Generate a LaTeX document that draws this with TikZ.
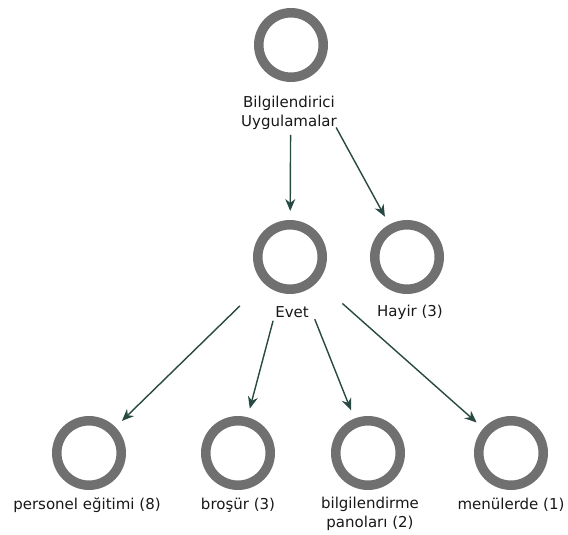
\documentclass[tikz,border=0pt]{standalone}
\usepackage{fontspec}
\setmainfont{DejaVu Sans}
\usetikzlibrary{arrows.meta}
\definecolor{ringgray}{RGB}{112,112,112}
\definecolor{linkteal}{RGB}{40,72,66}
\definecolor{labelink}{RGB}{24,24,24}

\begin{document}
\begin{tikzpicture}[
  x=1pt,y=-1pt,
  font=\fontsize{15}{19}\selectfont,
  ring/.style={circle,draw=ringgray,line width=9.5pt,minimum size=64.5pt,inner sep=0pt},
  lbl/.style={text=labelink,align=center,inner sep=1pt},
  link/.style={draw=linkteal,line width=1.4pt,shorten >=46pt,
               -{Stealth[length=12pt,width=10pt]}},
]
\useasboundingbox (0,0) rectangle (568,535);

% root
\node[ring] (root) at (291,45) {};
\node[lbl] (rootlbl) at (289,112.5) {Bilgilendirici\\Uygulamalar};

% first split
\node[ring] (evet) at (290,257) {};
\node[lbl] (evetlbl) at (292,312) {Evet};
\node[ring] (hayir) at (407,257) {};
\node[lbl] (hayirlbl) at (410,312) {Hayir (3)};

% leaves under Evet
\node[ring] (pers) at (89,453) {};
\node[lbl] (perslbl) at (87,505) {personel eğitimi (8)};
\node[ring] (bros) at (238,453) {};
\node[lbl] (broslbl) at (238,505) {broşür (3)};
\node[ring] (bilg) at (368,453) {};
\node[lbl] (bilglbl) at (370,514) {bilgilendirme\\panoları (2)};
\node[ring] (menu) at (511,453) {};
\node[lbl] (menulbl) at (511,505) {menülerde (1)};

% arrows, center to center, cut back past the labels
\draw[link,shorten <=90pt] (root.center) -- (evet.center);
\draw[link,shorten <=94pt] (root.center) -- (hayir.center);
\foreach \leaf/\cut in {pers/70,bros/66,bilg/67,menu/70}{
  \draw[link,shorten <=\cut pt] (evet.center) -- (\leaf.center);
}
\end{tikzpicture}
\end{document}
